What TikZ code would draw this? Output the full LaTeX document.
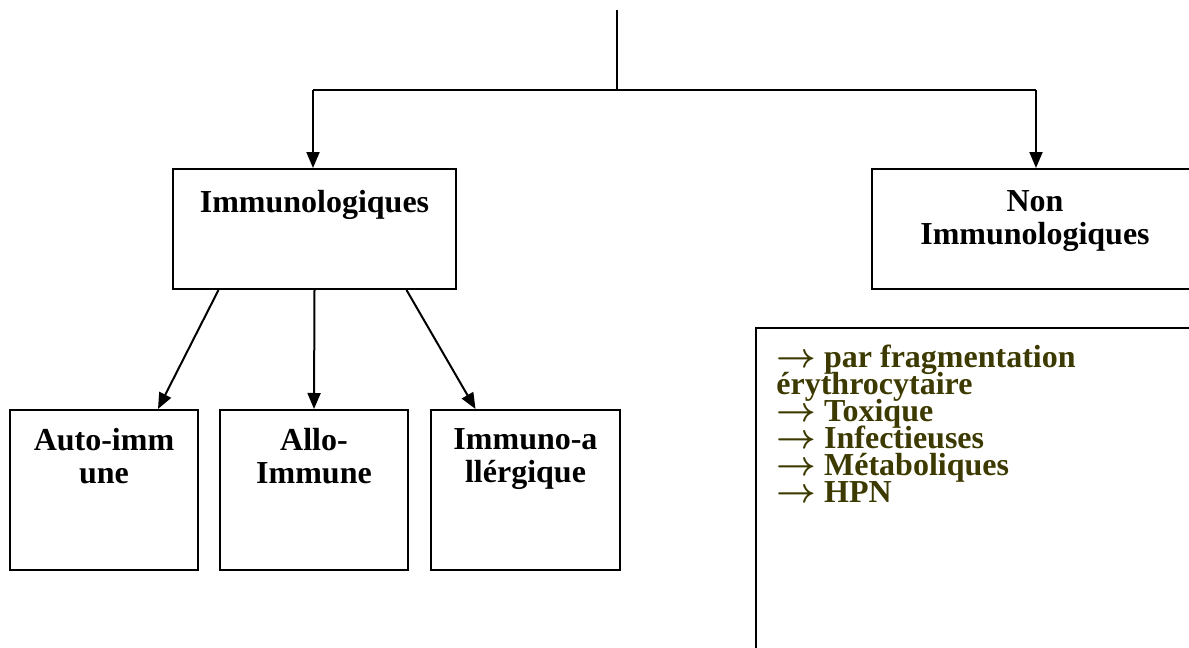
\documentclass[tikz,border=0pt]{standalone}
\usepackage{fontspec}
\setmainfont{Liberation Serif}
\usetikzlibrary{arrows.meta}
\definecolor{listcol}{RGB}{60,58,0}
\newcommand{\myarr}{{\boldmath$\rightarrow$}}
\newcommand{\tightls}{\lineskiplimit=-100pt\relax}
\begin{document}
\begin{tikzpicture}[x=0.5pt,y=-0.5pt,
  box/.style={draw, line width=1pt, inner sep=0pt},
  lbl/.style={font={\bfseries\fontsize{16}{16.5}\selectfont\tightls}, align=center, anchor=north, inner sep=0pt},
  lst/.style={font={\bfseries\fontsize{16}{13.5}\selectfont\tightls}, align=left, anchor=north west, inner sep=0pt, text=listcol},
  arr/.style={line width=1pt, -{Triangle[length=8pt,width=6.5pt]}},
  thin/.style={line width=0.6pt}]
\useasboundingbox (0,0) rectangle (1189,648);
\clip (0,0) rectangle (1189,648);
% boxes
\node[box, minimum width=141.5pt, minimum height=60pt] (imm) at (314.5,229) {};
\node[box, minimum width=163pt, minimum height=60pt] (nonimm) at (1035,229) {};
\node[box, minimum width=94pt, minimum height=80pt] (auto) at (104,490) {};
\node[box, minimum width=94pt, minimum height=80pt] (allo) at (314,490) {};
\node[box, minimum width=94.5pt, minimum height=80pt] (aller) at (525.5,490) {};
\node[box, minimum width=240pt, minimum height=200pt] (list) at (996,528) {};
% texts
\node[lbl] (immt) at (314.5,190) {Immunologiques};
\node[lbl] (nonimmt) at (1035,190.5) {Non\\Immunologiques};
\node[lbl] (autot) at (104,428) {Auto-imm\\une};
\node[lbl] (allot) at (314,428) {Allo-\\Immune};
\node[lbl] (allert) at (525.5,428) {Immuno-a\\llérgique};
\node[lst] (listt) at (776,345) {\myarr{} par fragmentation\\érythrocytaire\\\myarr{} Toxique\\\myarr{} Infectieuses\\\myarr{} Métaboliques\\\myarr{} HPN};
% connectors
\coordinate (top) at (617,10);
\coordinate (junc) at (617,90);
\coordinate (jl) at (313,90);
\coordinate (jr) at (1036,90);
\draw[thin] (top) -- (junc);
\draw[line width=1pt] (jl) -- (jr);
\draw[arr] (jl) -- (jl |- imm.north);
\draw[arr] (jr) -- (jr |- nonimm.north);
\draw[arr] ([xshift=-48pt]imm.south) -- ([xshift=27pt]auto.north);
\draw[arr] (imm.south) -- (allo.north);
\draw[arr] ([xshift=46pt]imm.south) -- ([xshift=-25pt]aller.north);
\end{tikzpicture}
\end{document}
